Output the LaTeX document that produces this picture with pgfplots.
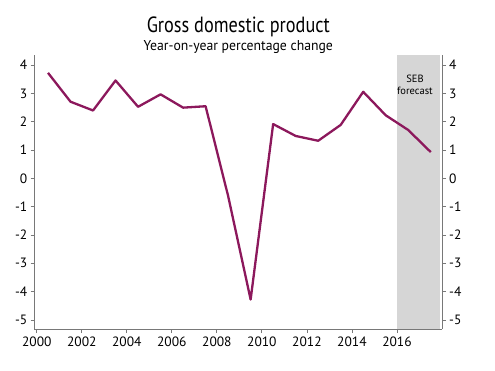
\documentclass[border=0pt]{standalone}
\usepackage{fontspec}
\setmainfont{PT Sans}
\newfontfamily\condfont[FakeStretch=0.83]{PT Sans}
\newfontfamily\subfont[FakeStretch=0.96]{PT Sans}
\usepackage{pgfplots}
\pgfplotsset{compat=1.18}
\definecolor{gdp}{RGB}{140,24,92}
\definecolor{shadegray}{RGB}{214,214,214}
\definecolor{axgray}{RGB}{120,120,120}
\begin{document}
\begin{tikzpicture}
\useasboundingbox (-34.5bp,-42bp) rectangle (460.5bp,329bp);
\pgfplotsset{
  common/.style={
    scale only axis, width=407.5bp, height=274bp, at={(0,0)}, anchor=south west,
    xmin=1999.9, xmax=2018, ymin=-5.32, ymax=4.36,
    ytick={-5,-4,...,4},
    tick align=outside, major tick length=4bp,
    axis line style={-, draw=axgray, line width=0.8bp},
    every tick/.style={draw=axgray, line width=0.8bp},
    /pgf/number format/assume math mode=true,
    /pgf/number format/1000 sep={},
    tick label style={font=\fontsize{13.5bp}{16bp}\selectfont, text=black},
  }
}
\begin{axis}[common,
  axis x line*=bottom, axis y line*=left,
  xtick={2000,2002,...,2016},
  yticklabel style={inner sep=0pt, xshift=-3bp},
  xticklabel style={inner sep=0pt, yshift=-4bp},
]
\fill[fill=shadegray, draw=none] (axis cs:2016,-5.32) rectangle (axis cs:2017.9,4.36);
\node[font=\fontsize{10.5bp}{12.5bp}\selectfont, anchor=base] at (axis cs:2016.8,3.4) {SEB};
\node[font=\fontsize{10.5bp}{12.5bp}\selectfont, anchor=base] at (axis cs:2016.8,2.97) {forecast};
\addplot[gdp, line width=2.3bp, line join=round, mark=none] coordinates {
(2000.5,3.73) (2001.5,2.71) (2002.5,2.40) (2003.5,3.46) (2004.5,2.53)
(2005.5,2.97) (2006.5,2.50) (2007.5,2.55) (2008.5,-0.62) (2009.5,-4.28)
(2010.5,1.92) (2011.5,1.50) (2012.5,1.33) (2013.5,1.89) (2014.5,3.06)
(2015.5,2.23) (2016.5,1.71) (2017.5,0.93)
};
\end{axis}
\begin{axis}[common,
  axis x line=none, axis y line*=right,
  yticklabel style={inner sep=0pt, xshift=3bp},
]
\end{axis}
\node[anchor=base, font=\condfont\fontsize{22bp}{26bp}\selectfont] at (203.8bp,296.7bp) {Gross domestic product};
\node[anchor=base, font=\subfont\fontsize{14.3bp}{17bp}\selectfont] at (203.8bp,278.3bp) {Year-on-year percentage change};
\end{tikzpicture}
\end{document}
